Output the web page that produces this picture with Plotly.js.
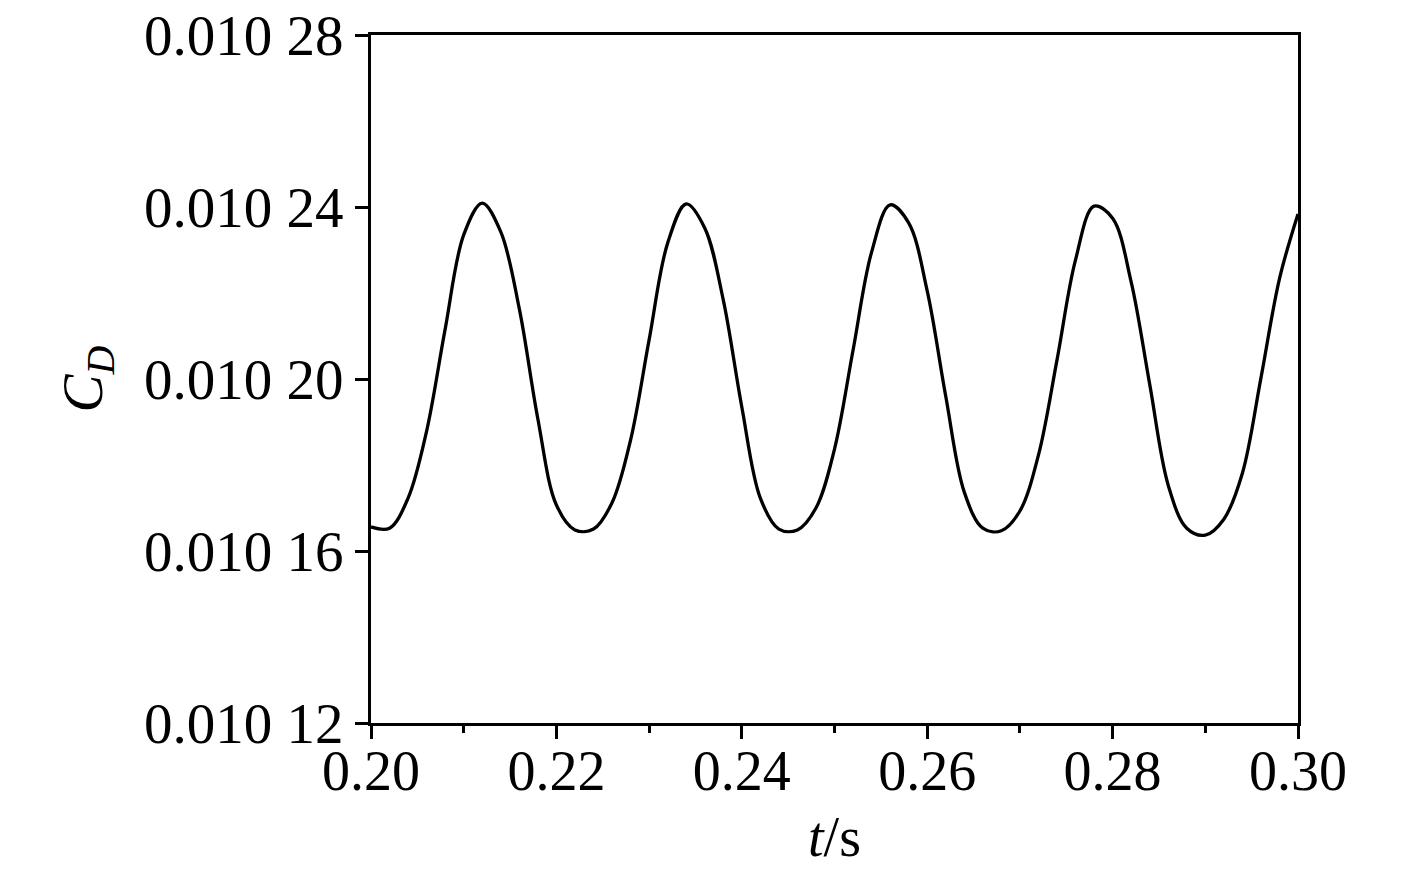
<!DOCTYPE html>
<html>
<head>
<meta charset="utf-8">
<script src="https://cdn.plot.ly/plotly-3.0.1.min.js"></script>
<style>
  html, body { margin: 0; padding: 0; background: #fff; }
  #chart { width: 1417px; height: 872px; }
</style>
</head>
<body>
<div id="chart"></div>
<script>
// Time (s) and drag coefficient, every 0.002 s
const timeS = [
  0.200, 0.202, 0.204, 0.206, 0.208, 0.210, 0.212, 0.214, 0.216, 0.218,
  0.220, 0.222, 0.224, 0.226, 0.228, 0.230, 0.232, 0.234, 0.236, 0.238,
  0.240, 0.242, 0.244, 0.246, 0.248, 0.250, 0.252, 0.254, 0.256, 0.258,
  0.260, 0.262, 0.264, 0.266, 0.268, 0.270, 0.272, 0.274, 0.276, 0.278,
  0.280, 0.282, 0.284, 0.286, 0.288, 0.290, 0.292, 0.294, 0.296, 0.298,
  0.300
];
const dragCoef = [
  0.0101656, 0.0101653, 0.0101723, 0.0101879, 0.0102116, 0.0102335, 0.0102409, 0.0102342, 0.0102163, 0.0101907,
  0.0101707, 0.0101649, 0.0101651, 0.0101712, 0.0101858, 0.0102091, 0.0102316, 0.0102407, 0.0102351, 0.0102184,
  0.0101935, 0.0101723, 0.0101651, 0.0101649, 0.0101700, 0.0101837, 0.0102067, 0.0102295, 0.0102405, 0.0102363,
  0.0102205, 0.0101960, 0.0101737, 0.0101653, 0.0101647, 0.0101693, 0.0101823, 0.0102044, 0.0102277, 0.0102402,
  0.0102374, 0.0102226, 0.0101988, 0.0101753, 0.0101653, 0.0101637, 0.0101674, 0.0101781, 0.0102002, 0.0102233,
  0.0102384
];

const xTicks = [0.20, 0.22, 0.24, 0.26, 0.28, 0.30];
const xTickText = ['0.20', '0.22', '0.24', '0.26', '0.28', '0.30'];
const yTicks = [0.01012, 0.01016, 0.01020, 0.01024, 0.01028];
const yTickText = ['0.010 12', '0.010 16', '0.010 20', '0.010 24', '0.010 28'];

const font = 'Liberation Serif, Times New Roman, serif';

const trace = {
  x: timeS,
  y: dragCoef,
  type: 'scatter',
  mode: 'lines',
  line: { color: '#000', width: 3.3, shape: 'spline', smoothing: 1 },
  hoverinfo: 'skip'
};

const layout = {
  width: 1417,
  height: 872,
  margin: { l: 371, r: 119, t: 35, b: 149 },
  paper_bgcolor: '#fff',
  plot_bgcolor: '#fff',
  showlegend: false,
  font: { family: font, size: 57, color: '#000' },
  xaxis: {
    range: [0.2, 0.3],
    tickvals: xTicks,
    ticktext: xTickText,
    tickfont: { family: font, size: 56 },
    ticks: 'outside',
    ticklen: 13,
    tickwidth: 3,
    tickcolor: '#000',
    minor: { dtick: 0.01, tick0: 0.2, ticks: 'outside', ticklen: 7, tickwidth: 3, tickcolor: '#000', showgrid: false },
    ticklabelstandoff: -16,
    showline: true,
    linecolor: '#000',
    linewidth: 3,
    mirror: true,
    showgrid: false,
    zeroline: false,
    automargin: false,
    title: { text: '<i>t</i>/s', font: { family: font, size: 56 }, standoff: 16 }
  },
  yaxis: {
    range: [0.01012, 0.01028],
    tickvals: yTicks,
    ticktext: yTickText,
    tickfont: { family: font, size: 57 },
    ticks: 'outside',
    ticklen: 13,
    tickwidth: 3,
    tickcolor: '#000',
    ticklabelstandoff: 0,
    showline: true,
    linecolor: '#000',
    linewidth: 3,
    mirror: true,
    showgrid: false,
    zeroline: false,
    automargin: false,
    title: { text: '<i>C</i><sub><i>D</i></sub>', font: { family: font, size: 57 }, standoff: 24 }
  }
};

Plotly.newPlot('chart', [trace], layout, { staticPlot: true, displayModeBar: false });
</script>
</body>
</html>
